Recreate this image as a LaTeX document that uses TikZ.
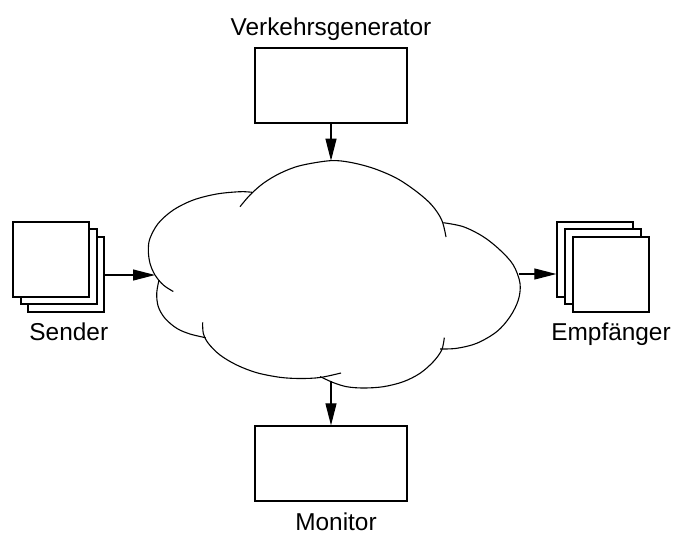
\documentclass[tikz,border=0pt]{standalone}
\usepackage{fontspec}
\setmainfont{Liberation Sans}
\usetikzlibrary{arrows.meta}
\begin{document}
\begin{tikzpicture}[x=1pt,y=-1pt,
  line width=1.1pt,
  box/.style={draw, fill=white, line width=1.3pt, inner sep=0pt, minimum width=152pt, minimum height=75pt},
  sheet/.style={draw, fill=white, line width=1.3pt, inner sep=0pt, minimum width=76pt, minimum height=75pt},
  lbl/.style={anchor=base, inner sep=0pt, font=\fontsize{24.4}{28}\selectfont},
  lobe/.style={line width=1.1pt, smooth, tension=0.55},
  conn/.style={line width=1.1pt, -{Triangle[length=22pt,width=11pt]}}]
\useasboundingbox (0,0) rectangle (676,533);

% traffic generator and monitor
\node[box] (gen) at (331,85.5) {};
\node[box] (mon) at (331,463.5) {};
\node[lbl] (genlbl) at (331,35) {Verkehrsgenerator};
\node[lbl] (monlbl) at (336,530) {Monitor};

% sender stack (front sheet top-left)
\node[sheet] (s3) at (66,274.5) {};
\node[sheet] (s2) at (59,266.5) {};
\node[sheet] (s1) at (51,259.5) {};
\node[lbl] (slbl) at (68.8,340.5) {Sender};

% receiver stack (front sheet bottom-right)
\node[sheet] (e3) at (595,259.5) {};
\node[sheet] (e2) at (603,266.5) {};
\node[sheet] (e1) at (611,274.5) {};
\node[lbl] (elbl) at (611,340.5) {Empfänger};

% the network cloud, drawn lobe by lobe
\draw[lobe] plot coordinates {(240,206.7) (250,195) (263.3,183.3) (280,173.3) (300,165.7) (330,160.7)
  (350,162.3) (373.3,168.3) (396.7,178.3) (416.7,191.7) (431.7,205) (441.7,220) (446,237)};
\draw[lobe] plot coordinates {(252,192.3) (240,191.7) (216.7,194) (193.3,200) (173.3,210) (158.3,223.3)
  (150,238.3) (148.3,250) (150,263.3) (155,275) (163.3,285) (173.3,291.5)};
\draw[lobe] plot coordinates {(159,280) (156.7,293.3) (158.3,306.7) (165,318.3) (176.7,328.3) (190,334) (205.7,337.7)};
\draw[lobe] plot coordinates {(202.7,322.3) (203.3,333.3) (208.3,343.3) (220,355) (236.7,365) (256.7,372.7)
  (280,377.3) (300,378.5) (320,377.5) (341,373)};
\draw[lobe] plot coordinates {(320,376.5) (333,382.5) (346.7,386.7) (363.3,388) (383.3,386.7) (403.3,381.7)
  (420,373.3) (433.3,361.7) (441.7,350) (444.3,337.7)};
\draw[lobe] plot coordinates {(443.3,222.7) (463.3,226.7) (483.3,236.7) (500,250) (513.3,265) (520,283.3)
  (518.3,300) (510,316.7) (496.7,331.7) (476.7,343.3) (456.7,348.3) (440,349)};

\coordinate (ctop) at (331,160.7);
\coordinate (cleft) at (155,275);
\coordinate (cright) at (519,274);
\coordinate (cbot) at (331,381);

% connectors
\draw[conn] (gen.south) -- (ctop);
\draw[conn] (s3.east |- cleft) -- (cleft);
\draw[conn] (cright) -- (cright -| e3.west);
\draw[conn] (cbot) -- (mon.north);
\end{tikzpicture}
\end{document}
